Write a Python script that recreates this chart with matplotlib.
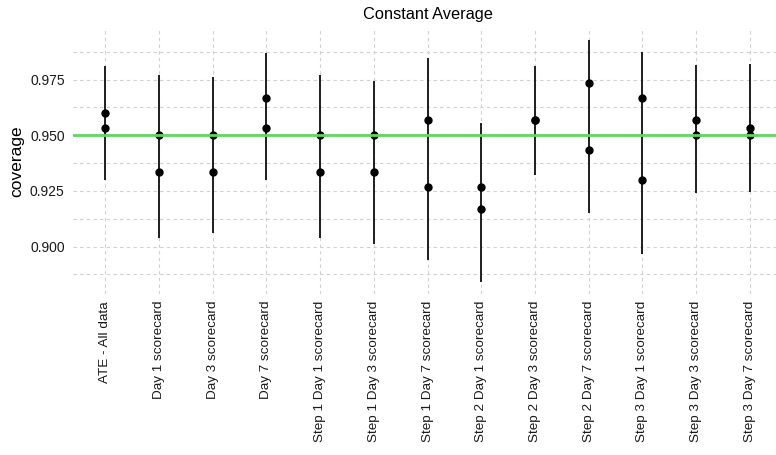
import matplotlib
matplotlib.use("Agg")
import matplotlib.pyplot as plt
import numpy as np

plt.rcParams['font.family'] = ['Liberation Sans', 'DejaVu Sans']

categories = [
    "ATE - All data", "Day 1 scorecard", "Day 3 scorecard", "Day 7 scorecard",
    "Step 1 Day 1 scorecard", "Step 1 Day 3 scorecard", "Step 1 Day 7 scorecard",
    "Step 2 Day 1 scorecard", "Step 2 Day 3 scorecard", "Step 2 Day 7 scorecard",
    "Step 3 Day 1 scorecard", "Step 3 Day 3 scorecard", "Step 3 Day 7 scorecard",
]
coverage_a = [0.960, 0.950, 0.950, 0.9667, 0.950, 0.950, 0.9567,
              0.9267, 0.9567, 0.9733, 0.9667, 0.9567, 0.9533]
coverage_b = [0.9533, 0.9333, 0.9333, 0.9533, 0.9333, 0.9333, 0.9267,
              0.9167, 0.9567, 0.9433, 0.930, 0.950, 0.950]
ci_low = [0.930, 0.904, 0.9063, 0.930, 0.904, 0.901, 0.894,
          0.8841, 0.932, 0.9151, 0.8966, 0.924, 0.9244]
ci_high = [0.981, 0.9773, 0.9762, 0.987, 0.9773, 0.9744, 0.9847,
           0.9554, 0.981, 0.9928, 0.9874, 0.9816, 0.982]
nominal = 0.95
y_ticks = [0.900, 0.925, 0.950, 0.975]
y_minor = [0.8875, 0.9125, 0.9375, 0.9625, 0.9875]

W, H = 776, 455
fig = plt.figure(figsize=(W / 100, H / 100), dpi=100)
left, right, top, bottom = 73, 782, 28, 294
ax = fig.add_axes([left / W, 1 - bottom / H, (right - left) / W, (bottom - top) / H])

x = np.arange(len(categories))
ax.vlines(x, ci_low, ci_high, color="#1e1e1e", lw=1.4, zorder=3)
ax.plot(x, coverage_a, 'o', color="black", ms=5, zorder=4)
ax.plot(x, coverage_b, 'o', color="black", ms=5, zorder=4)
ax.axhline(nominal, color="#4fe34f", lw=2.0, zorder=5)

ax.set_xlim(-0.6, len(categories) - 1 + 0.6)
ax.set_ylim(0.8787, 0.9982)
ax.set_xticks(x)
ax.set_xticklabels(categories, rotation=90, ha="center", va="top", fontsize=9.7, color="#1a1a1a")
ax.set_yticks(y_ticks)
ax.set_yticklabels([f"{v:.3f}" for v in y_ticks], fontsize=10, color="#1a1a1a")
ax.set_yticks(y_minor, minor=True)
ax.tick_params(axis="both", which="both", length=0)
ax.tick_params(axis="y", pad=6)
ax.tick_params(axis="x", pad=5)

grid_kw = dict(color="#d0d0d0", lw=0.8, ls=(0, (3, 3)))
ax.grid(True, which="major", axis="both", **grid_kw)
ax.grid(True, which="minor", axis="y", **grid_kw)
ax.set_axisbelow(True)
for s in ax.spines.values():
    s.set_visible(False)

ax.set_ylabel("coverage", fontsize=12.5, color="black", labelpad=4)
fig.text(0.5 * (left + right) / W, 1 - 14 / H, "Constant Average", ha="center", va="center",
         fontsize=11.8, color="black")

fig.savefig("out.png", dpi=100)
